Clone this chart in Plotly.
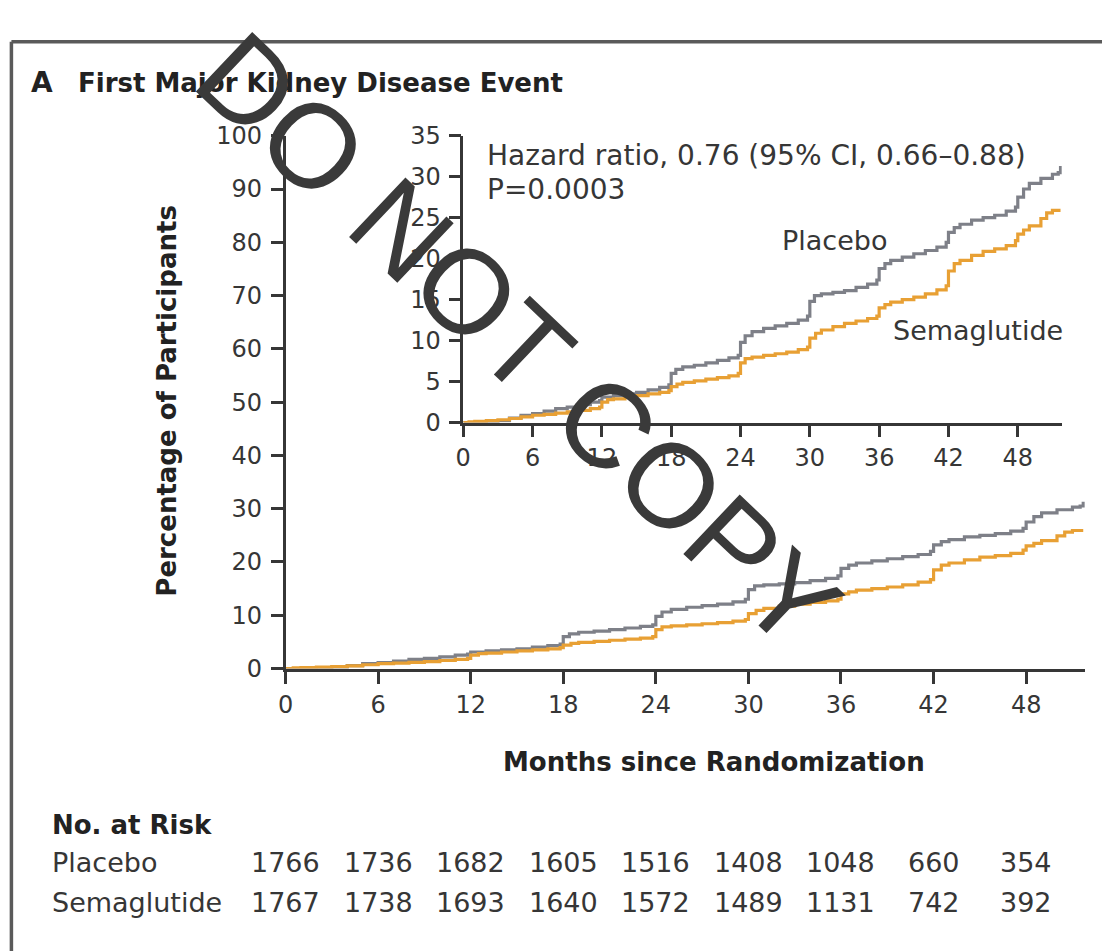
import plotly.graph_objects as go

# ---------------- data ----------------
placebo_months = [0, 1, 2, 3, 4, 5, 6, 7, 8, 9, 10, 11, 11.8, 12, 13, 14, 15, 16, 17, 17.8,
                  18, 18.4, 19, 20, 21, 22, 23, 23.8, 24, 24.4, 25, 26, 27, 28, 29, 29.8,
                  30, 30.4, 31, 32, 33, 34, 35, 35.8, 36, 36.5, 37, 38, 39, 40, 41, 41.8,
                  42, 42.5, 43, 44, 45, 46, 47, 47.8, 48, 48.5, 49, 50, 51, 51.5, 51.7]
placebo_pct = [0, 0.0, 0.05, 0.25, 0.55, 0.9, 1.1, 1.4, 1.7, 1.9, 2.2, 2.5, 2.7, 3.1, 3.3, 3.5, 3.7, 4.0, 4.3, 4.6,
               6.0, 6.5, 6.8, 7.0, 7.3, 7.6, 7.9, 8.2, 9.8, 10.6, 11.1, 11.5, 11.8, 12.1, 12.5, 13.0,
               14.8, 15.5, 15.7, 15.9, 16.1, 16.5, 16.9, 17.4, 18.8, 19.4, 19.8, 20.2, 20.6, 21.0, 21.4, 22.0,
               23.2, 23.8, 24.2, 24.7, 25.0, 25.3, 25.8, 26.3, 27.5, 28.5, 29.2, 29.8, 30.3, 30.5, 31.3]

sema_months = [0, 0.5, 1, 2, 3, 4, 5, 6, 7, 8, 9, 10, 11, 11.8, 12, 12.5, 13, 14, 15, 16, 17, 17.8,
               18, 18.5, 19, 20, 21, 22, 23, 23.8, 24, 24.4, 25, 26, 27, 28, 29, 29.8,
               30, 30.5, 31, 32, 33, 34, 35, 35.8, 36, 36.5, 37, 38, 39, 40, 41, 41.8,
               42, 42.5, 43, 44, 45, 46, 47, 47.8, 48, 48.5, 49, 50, 50.5, 51, 51.7]
sema_pct = [0, 0.1, 0.15, 0.25, 0.35, 0.5, 0.7, 0.9, 1.0, 1.15, 1.3, 1.5, 1.7, 1.9, 2.5, 2.8, 2.9, 3.1, 3.3, 3.5, 3.7, 3.9,
            4.4, 4.7, 4.9, 5.1, 5.3, 5.5, 5.7, 6.0, 7.3, 7.8, 8.0, 8.2, 8.4, 8.6, 8.9, 9.2,
            10.3, 10.9, 11.3, 11.7, 12.1, 12.4, 12.7, 13.0, 14.0, 14.4, 14.7, 15.0, 15.3, 15.7, 16.2, 16.7,
            18.5, 19.4, 19.8, 20.4, 20.9, 21.2, 21.6, 22.2, 23.0, 23.5, 24.0, 24.9, 25.6, 25.9, 25.9]

x_ticks = [0, 6, 12, 18, 24, 30, 36, 42, 48]
main_y_ticks = [0, 10, 20, 30, 40, 50, 60, 70, 80, 90, 100]
inset_y_ticks = [0, 5, 10, 15, 20, 25, 30, 35]

risk_groups = ["Placebo", "Semaglutide"]
risk_placebo = [1766, 1736, 1682, 1605, 1516, 1408, 1048, 660, 354]
risk_sema = [1767, 1738, 1693, 1640, 1572, 1489, 1131, 742, 392]

title_letter = "A"
title_text = "First Major Kidney Disease Event"
hr_text = "Hazard ratio, 0.76 (95% CI, 0.66\u20130.88)"
p_text = "P=0.0003"
watermark = "DO NOT COPY"

# ---------------- styling / layout ----------------
W, H = 1102, 951
FONT = "DejaVu Sans"
INK = "#363636"
DARK = "#222222"
GRAY = "#7e8088"
ORANGE = "#e8a034"

# target pixel positions are mapped to paper fractions (with a small
# calibration so that the photographed page lands on the target pixels)
SX, OX = 0.9887, 8.6
SY, OY = 0.971, 13.2


def px(x):
    return ((x - OX) / SX) / W


def py(y):
    return 1 - ((y - OY) / SY) / H


fig = go.Figure()

for xa, ya in [("x", "y"), ("x2", "y2")]:
    fig.add_trace(go.Scatter(x=placebo_months, y=placebo_pct, mode="lines",
                             line=dict(color=GRAY, width=3.2, shape="hv"),
                             xaxis=xa, yaxis=ya, showlegend=False, hoverinfo="skip"))
    fig.add_trace(go.Scatter(x=sema_months, y=sema_pct, mode="lines",
                             line=dict(color=ORANGE, width=3.2, shape="hv"),
                             xaxis=xa, yaxis=ya, showlegend=False, hoverinfo="skip"))

axis_common = dict(showline=True, linecolor=INK, linewidth=2.5, ticks="outside",
                   tickwidth=2.5, tickcolor=INK, showgrid=False, zeroline=False,
                   tickfont=dict(family=FONT, size=24, color=INK), fixedrange=True)

x_end = 51.8
fig.update_layout(
    width=W, height=H, autosize=False, margin=dict(l=0, r=0, t=0, b=0, pad=0),
    paper_bgcolor="white", plot_bgcolor="rgba(0,0,0,0)",
    xaxis=dict(domain=[px(285), px(1081)], range=[0, x_end], tickvals=x_ticks,
               ticklen=13, anchor="y", **axis_common),
    yaxis=dict(domain=[py(668), py(135)], range=[0, 100], tickvals=main_y_ticks,
               ticklen=12, ticklabelstandoff=4, anchor="x", **axis_common),
    xaxis2=dict(domain=[px(462), px(1058)], range=[0, x_end], tickvals=x_ticks,
                ticklen=12, anchor="y2", **axis_common),
    yaxis2=dict(domain=[py(422), py(135)], range=[0, 35], tickvals=inset_y_ticks,
                ticklen=12, ticklabelstandoff=3, anchor="x2", **axis_common),
)

ann = []
# title
ann.append(dict(text=title_letter, x=px(30), y=py(82), xref="paper", yref="paper",
                xanchor="left", yanchor="middle", showarrow=False,
                font=dict(family=FONT, size=28, color=DARK, weight="bold")))
ann.append(dict(text=title_text, x=px(76), y=py(82), xref="paper", yref="paper",
                xanchor="left", yanchor="middle", showarrow=False,
                font=dict(family=FONT, size=26, color=DARK, weight="bold")))
# axis titles
ann.append(dict(text="Percentage of Participants", x=px(167), y=py(400), xref="paper", yref="paper",
                xanchor="center", yanchor="middle", textangle=-90, showarrow=False,
                font=dict(family=FONT, size=26, color=DARK, weight="bold")))
ann.append(dict(text="Months since Randomization", x=px(712), y=py(762), xref="paper", yref="paper",
                xanchor="center", yanchor="middle", showarrow=False,
                font=dict(family=FONT, size=26, color=DARK, weight="bold")))
# inset texts
ann.append(dict(text=hr_text, x=px(484), y=py(155), xref="paper", yref="paper",
                xanchor="left", yanchor="middle", showarrow=False,
                font=dict(family=FONT, size=28, color=INK)))
ann.append(dict(text=p_text, x=px(484), y=py(189), xref="paper", yref="paper",
                xanchor="left", yanchor="middle", showarrow=False,
                font=dict(family=FONT, size=28, color=INK)))
ann.append(dict(text="Placebo", x=px(832), y=py(240), xref="paper", yref="paper",
                xanchor="center", yanchor="middle", showarrow=False,
                font=dict(family=FONT, size=27, color=INK)))
ann.append(dict(text="Semaglutide", x=px(888), y=py(330), xref="paper", yref="paper",
                xanchor="left", yanchor="middle", showarrow=False,
                font=dict(family=FONT, size=27, color=INK)))
# risk table
ann.append(dict(text="No. at Risk", x=px(50), y=py(825), xref="paper", yref="paper",
                xanchor="left", yanchor="middle", showarrow=False,
                font=dict(family=FONT, size=26, color=DARK, weight="bold")))
for name, vals, yy in [(risk_groups[0], risk_placebo, 862), (risk_groups[1], risk_sema, 902)]:
    ann.append(dict(text=name, x=px(50), y=py(yy), xref="paper", yref="paper",
                    xanchor="left", yanchor="middle", showarrow=False,
                    font=dict(family=FONT, size=27, color=INK)))
    for m, v in zip(x_ticks, vals):
        ann.append(dict(text=str(v), x=m, y=py(yy), xref="x", yref="paper",
                        xanchor="center", yanchor="middle", showarrow=False,
                        font=dict(family=FONT, size=27, color=INK)))
# watermark
ann.append(dict(text=watermark, x=px(517), y=py(340), xref="paper", yref="paper",
                xanchor="center", yanchor="middle", textangle=43.5, showarrow=False,
                font=dict(family="Liberation Sans", size=119, color="#3a3a3a")))
fig.update_layout(annotations=ann)

# frame lines
fig.add_shape(type="line", xref="paper", yref="paper", x0=px(12), x1=1.01, y0=py(41), y1=py(41),
              line=dict(color="#5a5a5a", width=3.5))
fig.add_shape(type="line", xref="paper", yref="paper", x0=px(12), x1=px(12), y0=py(41), y1=-0.02,
              line=dict(color="#5a5a5a", width=3.5))

fig.write_html(
    "out.html",
    config={"responsive": False, "displayModeBar": False},
    post_script=("document.documentElement.style.margin='0px';"
                 "document.body.style.margin='0px';"
                 "document.body.style.overflow='hidden';"),
)
